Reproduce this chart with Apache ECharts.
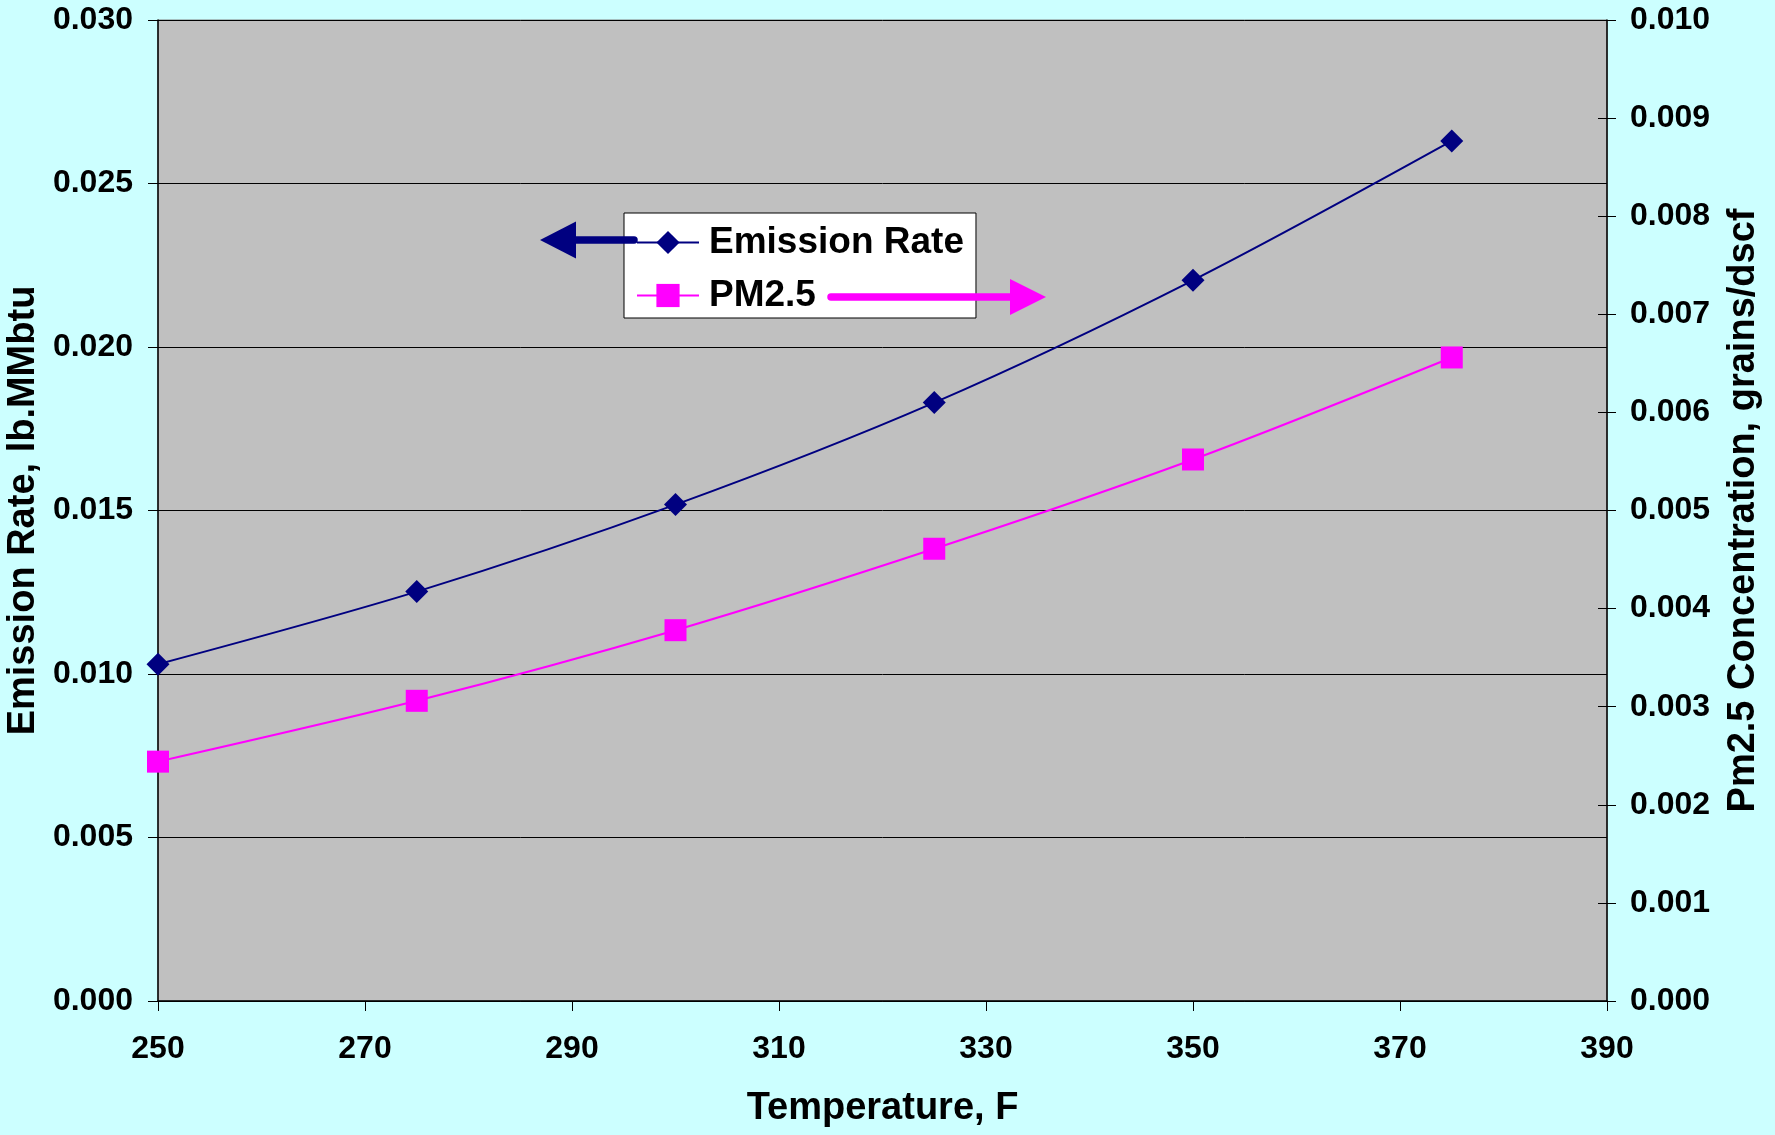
<!DOCTYPE html>
<html>
<head>
<meta charset="utf-8">
<script src="https://cdn.jsdelivr.net/npm/echarts@6/dist/echarts.min.js"></script>
<style>
html,body{margin:0;padding:0;background:#CCFFFF;}
#chart{width:1775px;height:1135px;}
</style>
</head>
<body>
<div id="chart"></div>
<script>
const temperatures = [250, 275, 300, 325, 350, 375];
const emissionRate = [0.0103, 0.01252, 0.01518, 0.0183, 0.02204, 0.0263];
const pm25 = [0.00244, 0.00306, 0.00378, 0.00461, 0.00552, 0.00656];
const xTicks = [250, 270, 290, 310, 330, 350, 370, 390];
const seriesNames = ['Emission Rate', 'PM2.5'];
const axisTitles = ['Temperature, F', 'Emission Rate, lb.MMbtu', 'Pm2.5 Concentration, grains/dscf'];

const FONT = '"Liberation Sans", Arial, sans-serif';
const chart = echarts.init(document.getElementById('chart'));
const lbl = {fontFamily: FONT, fontWeight: 'bold', fontSize: 32, color: '#000'};
const ttl = {fontFamily: FONT, fontWeight: 'bold', fontSize: 38, color: '#000'};

chart.setOption({
  backgroundColor: '#CCFFFF',
  animation: false,
  grid: {left: 158, right: 168, top: 20, bottom: 134, containLabel: false, outerBoundsMode: 'none',
    show: true, backgroundColor: '#C0C0C0', borderColor: '#808080', borderWidth: 1},
  legend: {
    orient: 'vertical', left: 624, top: 213,
    data: seriesNames,
    backgroundColor: '#FFFFFF', borderColor: '#000', borderWidth: 1,
    padding: [11, 12, 4, 12],
    itemWidth: 62, itemHeight: 29, itemGap: 16,
    textStyle: {fontFamily: FONT, fontWeight: 'bold', fontSize: 37, color: '#000', lineHeight: 37, padding: [0, 0, 0, 5]}
  },
  xAxis: {
    type: 'value', min: 250, max: 390,
    name: axisTitles[0], nameLocation: 'middle', nameGap: 89, nameTextStyle: ttl,
    axisLine: {lineStyle: {color: '#000', width: 1.5}},
    axisTick: {customValues: xTicks, length: 10, lineStyle: {color: '#000'}},
    axisLabel: Object.assign({customValues: xTicks, margin: 32}, lbl),
    splitLine: {show: false}
  },
  yAxis: [
    {
      type: 'value', min: 0, max: 0.03, interval: 0.005, position: 'left',
      name: axisTitles[1], nameLocation: 'middle', nameRotate: 90, nameGap: 110, nameTextStyle: ttl,
      axisLine: {show: true, lineStyle: {color: '#000', width: 1.5}},
      axisTick: {show: true, length: 10, lineStyle: {color: '#000'}},
      axisLabel: Object.assign({margin: 25, formatter: v => v.toFixed(3)}, lbl),
      splitLine: {show: true, lineStyle: {color: '#000', width: 1}}
    },
    {
      type: 'value', min: 0, max: 0.01, interval: 0.001, position: 'right',
      name: axisTitles[2], nameLocation: 'middle', nameRotate: 90, nameGap: 118,
      nameTextStyle: ttl,
      axisLine: {show: true, lineStyle: {color: '#000', width: 1.5}},
      axisTick: {show: true, length: 9, lineStyle: {color: '#000'}},
      axisLabel: Object.assign({margin: 23, formatter: v => v.toFixed(3)}, lbl),
      splitLine: {show: false}
    },
    {
      type: 'value', min: 0, max: 0.01, interval: 0.001, position: 'right',
      axisLine: {show: false},
      axisTick: {show: true, inside: true, length: 9, lineStyle: {color: '#000'}},
      axisLabel: {show: false},
      splitLine: {show: false}
    }
  ],
  series: [
    {
      name: seriesNames[0], type: 'line', yAxisIndex: 0, smooth: 0.3,
      data: temperatures.map((t, i) => [t, emissionRate[i]]),
      symbol: 'diamond', symbolSize: 23,
      itemStyle: {color: '#000080'}, lineStyle: {color: '#000080', width: 2}
    },
    {
      name: seriesNames[1], type: 'line', yAxisIndex: 1, smooth: 0.3,
      data: temperatures.map((t, i) => [t, pm25[i]]),
      symbol: 'rect', symbolSize: 22,
      itemStyle: {color: '#FF00FF'}, lineStyle: {color: '#FF00FF', width: 2}
    }
  ],
  graphic: [
    {type: 'line', z: 100, shape: {x1: 572, y1: 240, x2: 634, y2: 240}, style: {stroke: '#000080', lineWidth: 7.5, lineCap: 'round'}},
    {type: 'polygon', z: 100, shape: {points: [[540, 240], [576, 221.5], [576, 258.5]]}, style: {fill: '#000080'}},
    {type: 'line', z: 100, shape: {x1: 831, y1: 297, x2: 1014, y2: 297}, style: {stroke: '#FF00FF', lineWidth: 7.5, lineCap: 'round'}},
    {type: 'polygon', z: 100, shape: {points: [[1046, 297], [1010, 279], [1010, 315]]}, style: {fill: '#FF00FF'}}
  ]
});
</script>
</body>
</html>
